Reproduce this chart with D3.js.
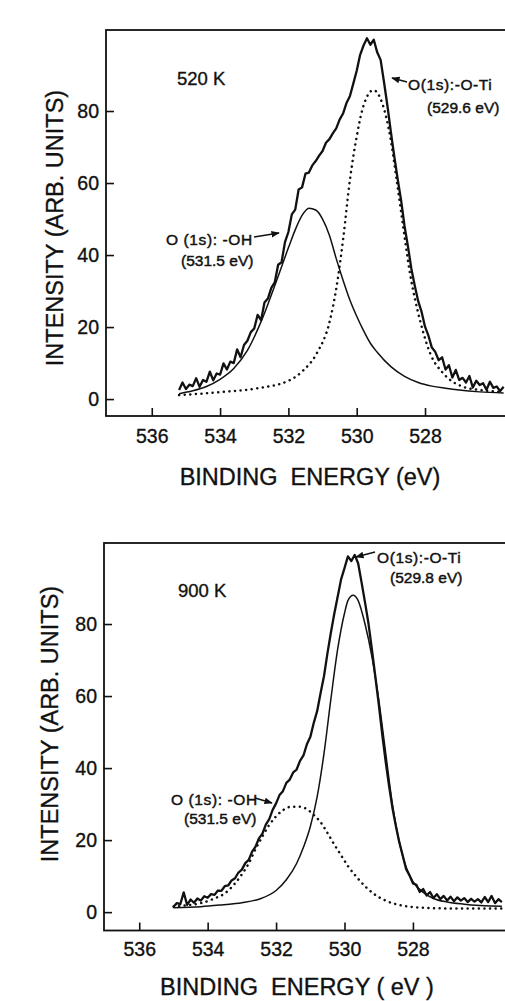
<!DOCTYPE html>
<html>
<head>
<meta charset="utf-8">
<script src="https://cdn.jsdelivr.net/npm/d3@7"></script>
<style>
body { margin: 0; background: #fff; }
svg { display: block; background: #fff; }
text { font-family: "Liberation Sans", Arial, sans-serif; fill: #111; stroke: #111; stroke-width: 0.35; white-space: pre; }
.frame { fill: none; stroke: #111; stroke-width: 1.8; }
.tick line { stroke: #111; stroke-width: 1.6; }
.tick text { font-family: "Liberation Sans", Arial, sans-serif; font-size: 19.5px; fill: #111; }
.axisTitle { font-size: 23.5px; }
.raw { fill: none; stroke: #111; stroke-width: 2.3; stroke-linejoin: round; }
.fitSolid { fill: none; stroke: #111; stroke-width: 1.5; }
.fitDots { fill: none; stroke: #111; stroke-width: 2.5; stroke-linecap: round; stroke-dasharray: 0.1 5.5; }
.note { font-size: 15.5px; stroke-width: 0.45; }
.temp { font-size: 18.5px; }
.arrow { stroke: #111; stroke-width: 1.4; }
</style>
</head>
<body>
<script>
// tick values shared by both panels
var energyTicks = [536, 534, 532, 530, 528],
intensityTicks = [0, 20, 40, 60, 80];

// 520 K : measured spectrum, 0.1 eV steps starting at 535.2 eV
var scan520Start = 535.2,
scan520Step = 0.1,
scan520 = [2.5, 4.6, 2.8, 4.0, 3.6, 5.8, 3.4, 5.3, 4.8, 7.6,
	5.2, 7.1, 6.8, 9.9, 8.2, 10.4, 10.0, 13.8, 11.6, 15.0,
	16.2, 18.6, 19.6, 23.4, 21.9, 26.8, 27.9, 30.9, 32.4, 37.3,
	38.0, 43.6, 46.4, 51.3, 52.6, 58.2, 58.8, 62.6, 62.9, 64.9,
	66.1, 67.6, 68.9, 71.2, 72.2, 73.8, 75.2, 77.6, 79.3, 82.2,
	84.1, 87.6, 91.2, 95.6, 98.2, 100.2, 98.4, 99.8, 96.3, 94.2,
	88.0, 81.4, 74.2, 67.4, 61.1, 55.2, 48.1, 42.4, 36.2, 31.5,
	27.2, 24.2, 20.1, 17.6, 14.3, 13.1, 10.8, 11.6, 8.2, 9.4,
	6.0, 8.1, 5.3, 5.9, 4.6, 6.4, 3.2, 5.1, 3.9, 4.4,
	2.6, 4.8, 3.1, 3.5, 2.2, 3.4];

// 520 K : fitted components
var oh520E = [535.2, 534.8, 534.4, 534.0, 533.6, 533.2, 532.8, 532.4, 532.0, 531.8, 531.6, 531.4, 531.2, 531.0, 530.8, 530.6, 530.4, 530.2, 530.0, 529.8, 529.6, 529.4, 529.0, 528.6, 528.2, 527.8, 527.4, 527.0, 526.4, 525.7],
oh520I = [1.5, 2.3, 3.5, 5.5, 8.5, 13.5, 21.5, 31.5, 42, 47, 51, 53, 52.5, 50, 45.5, 39, 33, 27.5, 23, 19, 15.5, 13, 9, 6.3, 4.6, 3.6, 3.0, 2.5, 2.0, 1.7];

var oti520E = [535.2, 533.9, 532.9, 531.95, 531.56, 531.17, 530.78, 530.59, 530.39, 530.2, 530.0, 529.81, 529.51, 529.22, 529.02, 528.83, 528.64, 528.44, 528.15, 527.85, 527.46, 526.88, 526.3, 525.7],
oti520I = [1.1, 2.0, 3.0, 5.3, 8, 12.7, 22, 31.2, 45, 60.8, 72.9, 81.2, 85.8, 81.2, 72.9, 60.8, 47.9, 34.9, 22, 12.7, 7.1, 3.4, 2.4, 2.0];

// 900 K : measured spectrum, 0.1 eV steps starting at 535.0 eV
var scan900Start = 535.0,
scan900Step = 0.1,
scan900 = [1.5, 2.5, 2.2, 5.5, 2.0, 3.5, 2.6, 3.8, 3.2, 4.4,
	4.0, 5.0, 4.8, 6.0, 5.9, 7.2, 7.4, 8.8, 9.4, 11.0,
	11.8, 13.6, 14.5, 16.8, 18.2, 20.5, 21.8, 24.3, 25.8, 28.4,
	30.2, 32.5, 33.6, 35.9, 36.8, 38.8, 39.6, 42.0, 43.5, 46.6,
	48.6, 52.5, 55.8, 60.8, 65.5, 71.8, 77.5, 82.8, 87.6, 92.4,
	95.5, 98.8, 97.5, 99.2, 96.8, 91.5, 86.0, 80.2, 73.0, 65.5,
	57.8, 49.6, 42.0, 35.2, 29.0, 24.0, 19.5, 15.8, 12.0, 10.2,
	8.0, 7.6, 5.6, 6.4, 4.6, 5.6, 3.9, 5.0, 3.6, 4.5,
	3.2, 4.3, 3.0, 4.1, 3.2, 3.9, 2.8, 3.7, 2.9, 3.6,
	2.7, 4.2, 2.8, 4.5, 2.5, 3.6, 2.8];

// 900 K : fitted components
var oti900E = [535.0, 534.2, 533.6, 533.0, 532.5, 532.0, 531.7, 531.4, 531.2, 531.0, 530.8, 530.6, 530.4, 530.2, 530.0, 529.9, 529.75, 529.6, 529.4, 529.2, 529.0, 528.8, 528.6, 528.4, 528.2, 528.0, 527.7, 527.4, 527.0, 526.5, 525.4],
oti900I = [1.2, 1.5, 2.0, 2.6, 3.6, 6.0, 9.0, 13.5, 18, 23.7, 32, 44, 59, 73, 83, 86.5, 88, 86.5, 80, 71, 59, 44.5, 30, 19.5, 12.5, 8.5, 5.5, 3.8, 2.8, 2.2, 1.6];

var oh900E = [535.0, 534.6, 534.2, 533.8, 533.5, 533.2, 533.0, 532.8, 532.6, 532.4, 532.2, 532.0, 531.8, 531.6, 531.35, 531.1, 530.9, 530.7, 530.5, 530.3, 530.1, 529.9, 529.65, 529.4, 529.16, 528.8, 528.4, 528.0, 527.4, 526.7, 525.4],
oh900I = [1.5, 1.9, 2.5, 3.8, 5.2, 8.0, 10.5, 13.5, 17.5, 21, 24.2, 26.6, 28.3, 29.2, 29.3, 28.6, 27, 25, 22, 18.8, 15.8, 12.8, 9.8, 7.2, 5.2, 3.2, 2.0, 1.4, 1.1, 1.0, 1.0];

var svg = d3.select("body").append("svg")
	.attr("width", 505)
	.attr("height", 1001);

svg.append("defs").append("marker")
	.attr("id", "head")
	.attr("viewBox", "0 0 10 10")
	.attr("refX", 9)
	.attr("refY", 5)
	.attr("markerWidth", 6)
	.attr("markerHeight", 6)
	.attr("orient", "auto")
	.append("path")
	.attr("d", "M0,1L10,5L0,9Z")
	.attr("fill", "#111");

function pairs(es, vals) {
	return es.map(function(e, i) { return [e, vals[i]]; });
}

function scanPairs(start, step, vals) {
	return vals.map(function(v, i) { return [+(start - i * step).toFixed(2), v]; });
}

function buildPanel(p) {
	var right = 507;
	var x = d3.scaleLinear().domain(p.xDomain).range([p.left, right]);
	var y = d3.scaleLinear().domain(p.yDomain).range([p.bottom, p.top]);
	var g = svg.append("g");

	g.append("rect")
		.attr("class", "frame")
		.attr("x", p.left)
		.attr("y", p.top)
		.attr("width", right + 5 - p.left)
		.attr("height", p.bottom - p.top);

	g.append("g")
		.attr("transform", "translate(0," + p.bottom + ")")
		.call(d3.axisBottom(x).tickValues(energyTicks).tickSize(-8).tickPadding(p.xPad).tickFormat(d3.format("d")))
		.call(function(a) { a.select(".domain").remove(); });

	g.append("g")
		.attr("transform", "translate(" + p.left + ",0)")
		.call(d3.axisLeft(y).tickValues(intensityTicks).tickSize(-8).tickPadding(7))
		.call(function(a) { a.select(".domain").remove(); });

	var smooth = d3.line()
		.x(function(d) { return x(d[0]); })
		.y(function(d) { return y(d[1]); })
		.curve(d3.curveMonotoneX);
	var jagged = d3.line()
		.x(function(d) { return x(d[0]); })
		.y(function(d) { return y(d[1]); })
		.curve(d3.curveLinear);

	p.fits.forEach(function(f) {
		g.append("path").attr("class", f.cls).attr("d", smooth(f.data));
	});
	g.append("path").attr("class", "raw").attr("d", jagged(p.raw));

	g.append("text").attr("class", "temp").attr("x", p.tempPos[0]).attr("y", p.tempPos[1]).text(p.temp);

	p.notes.forEach(function(n) {
		g.append("text").attr("class", "note").attr("x", n.x1).attr("y", n.y1)
			.style("letter-spacing", "0.6px").text(n.l1);
		g.append("text").attr("class", "note").attr("x", n.x2).attr("y", n.y2).text(n.l2);
		g.append("line").attr("class", "arrow")
			.attr("x1", n.a[0]).attr("y1", n.a[1])
			.attr("x2", n.a[2]).attr("y2", n.a[3])
			.attr("marker-end", "url(#head)");
	});

	g.append("text").attr("class", "axisTitle")
		.attr("x", p.xTitle[0]).attr("y", p.xTitle[1])
		.attr("text-anchor", "middle")
		.text(p.xTitleText);

	g.append("text").attr("class", "axisTitle")
		.attr("transform", "translate(" + p.yTitle[0] + "," + p.yTitle[1] + ") rotate(-90)")
		.attr("text-anchor", "middle")
		.attr("dominant-baseline", "central")
		.text("INTENSITY (ARB. UNITS)");
}

buildPanel({
	left: 106, top: 30, bottom: 416,
	xDomain: [537.34, 525.6], yDomain: [-4.7, 102.5],
	xPad: 13,
	raw: scanPairs(scan520Start, scan520Step, scan520),
	fits: [
		{ cls: "fitSolid", data: pairs(oh520E, oh520I) },
		{ cls: "fitDots", data: pairs(oti520E, oti520I) }
	],
	temp: "520 K", tempPos: [177, 85],
	notes: [
		{ l1: "O(1s):-O-Ti", x1: 408, y1: 90, l2: "(529.6 eV)", x2: 427, y2: 113, a: [407, 82, 392, 78] },
		{ l1: "O (1s): -OH", x1: 166, y1: 245, l2: "(531.5 eV)", x2: 181, y2: 266, a: [254, 237, 279, 233] }
	],
	xTitleText: "BINDING  ENERGY (eV)",
	xTitle: [310, 485], yTitle: [55, 228]
});

buildPanel({
	left: 104, top: 543, bottom: 930.5,
	xDomain: [537.03, 525.25], yDomain: [-5.1, 102.5],
	xPad: 12,
	raw: scanPairs(scan900Start, scan900Step, scan900),
	fits: [
		{ cls: "fitSolid", data: pairs(oti900E, oti900I) },
		{ cls: "fitDots", data: pairs(oh900E, oh900I) }
	],
	temp: "900 K", tempPos: [178, 597],
	notes: [
		{ l1: "O(1s):-O-Ti", x1: 377, y1: 563, l2: "(529.8 eV)", x2: 390, y2: 583, a: [375, 552, 356, 557] },
		{ l1: "O (1s): -OH", x1: 171, y1: 805, l2: "(531.5 eV)", x2: 184, y2: 824, a: [255, 798, 272, 803] }
	],
	xTitleText: "BINDING  ENERGY ( eV )",
	xTitle: [297, 995], yTitle: [50, 724]
});
</script>
</body>
</html>
